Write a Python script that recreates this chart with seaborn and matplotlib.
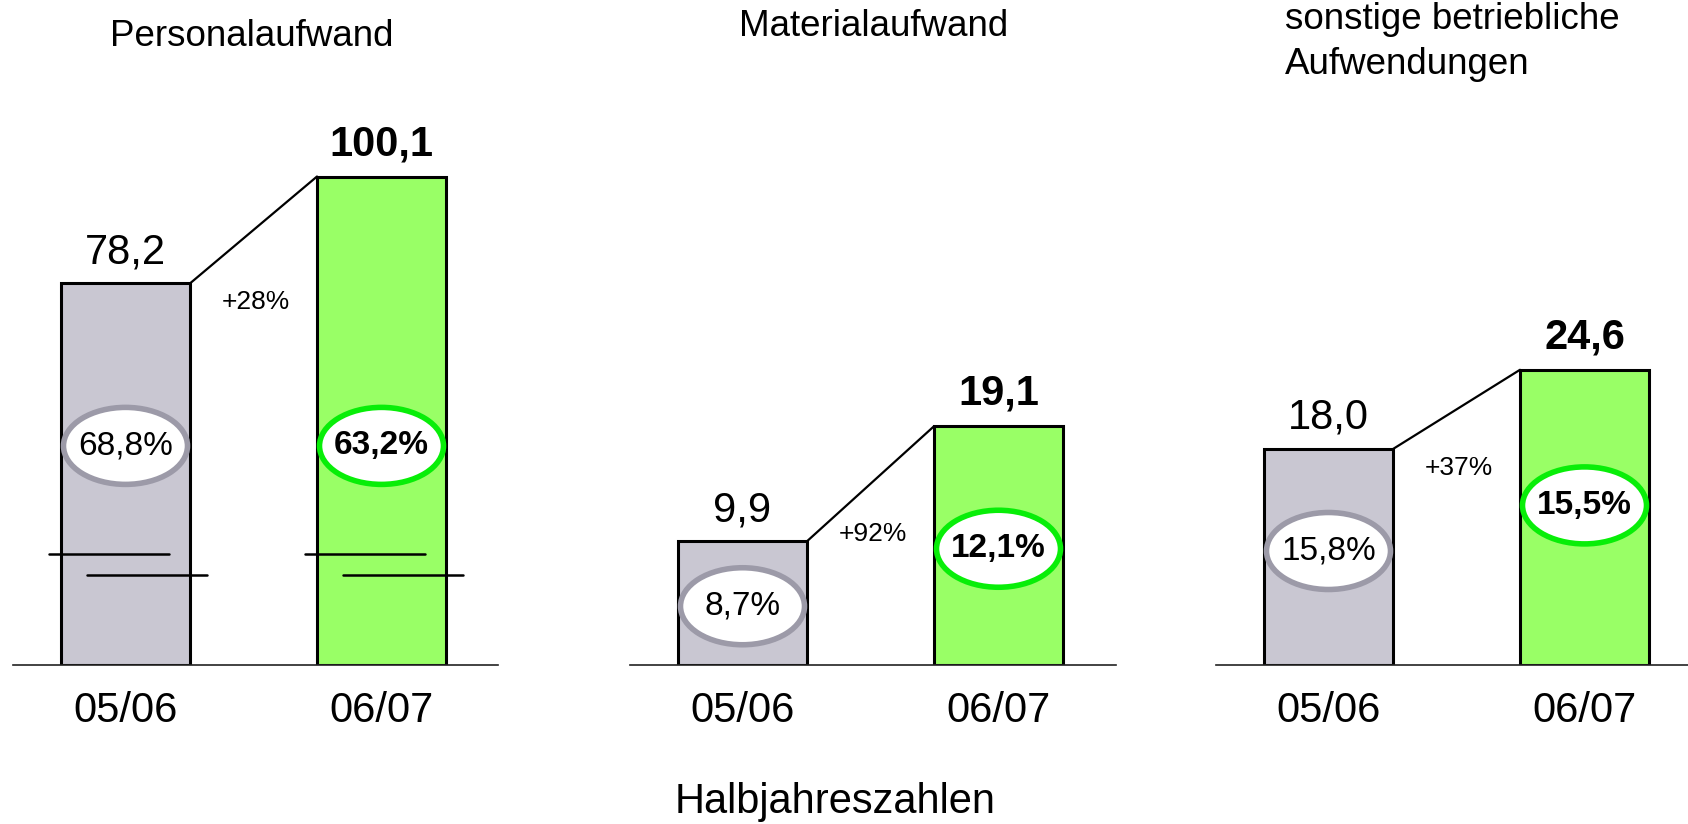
import matplotlib
matplotlib.use('Agg')
import matplotlib.pyplot as plt
from matplotlib.patches import Ellipse
import seaborn as sns
import pandas as pd

# Daten (Halbjahreszahlen, Mio. EUR)
periods = ['05/06', '06/07']
titles = ['Personalaufwand', 'Materialaufwand', 'sonstige betriebliche\nAufwendungen']
personal = [78.2, 100.1]
material = [9.9, 19.1]
sonstige = [18.0, 24.6]
personal_share = [68.8, 63.2]
material_share = [8.7, 12.1]
sonstige_share = [15.8, 15.5]
growth = [28, 92, 37]

values = [personal, material, sonstige]
shares = [personal_share, material_share, sonstige_share]

# Farben
GREY = '#C9C7D2'
GREY_EDGE = '#9C9AA8'
GREEN = '#99FF66'
GREEN_EDGE = '#08EE08'

# Layout (Pixel bei dpi=100)
W, H = 1688, 824
BASE = 665
BAR_W = 0.504
PX_UNIT = 256
axes_left = [13, 630, 1216]
axes_right = [498, 1116, 1688]
px_per_value = [4.88, 12.5, 12.0]
ellipse_y = [[44.9, 44.9], [4.7, 9.3], [9.5, 13.3]]
growth_dy = [-19, 7, -19]
break_y = [22.7, 18.4]


def fmt(v, suffix=''):
    return f"{v:.1f}".replace('.', ',') + suffix


sns.set_theme(style='white')
plt.rcParams['font.family'] = ['Liberation Sans', 'DejaVu Sans']
plt.rcParams['text.color'] = 'black'
plt.rcParams['xtick.color'] = 'black'

fig = plt.figure(figsize=(W / 100, H / 100), dpi=100)

for i in range(3):
    left, right = axes_left[i], axes_right[i]
    ax = fig.add_axes([left / W, 1 - BASE / H, (right - left) / W, BASE / H])
    df = pd.DataFrame({'Periode': periods, 'Wert': values[i]})
    sns.barplot(data=df, x='Periode', y='Wert', hue='Periode', order=periods,
                palette=[GREY, GREEN], saturation=1, edgecolor='black', linewidth=2.2,
                width=BAR_W, legend=False, ax=ax, zorder=2)

    ymax = BASE / px_per_value[i]
    x0 = -(125.5 - 13) / PX_UNIT
    ax.set_xlim(x0, x0 + (right - left) / PX_UNIT)
    ax.set_ylim(0, ymax)

    # Achsen
    for s in ['top', 'left', 'right']:
        ax.spines[s].set_visible(False)
    ax.spines['bottom'].set_color('#222222')
    ax.spines['bottom'].set_linewidth(1.2)
    ax.set_yticks([])
    ax.set_xlabel('')
    ax.set_ylabel('')
    ax.tick_params(axis='x', length=0, pad=19, labelsize=30, labelcolor='black')

    v1, v2 = values[i]

    # Wertbeschriftungen
    ax.annotate(fmt(v1), (0, v1), xytext=(0, 8), textcoords='offset points',
                ha='center', va='bottom', fontsize=30, color='black')
    ax.annotate(fmt(v2), (1, v2), xytext=(0, 9), textcoords='offset points',
                ha='center', va='bottom', fontsize=30, fontweight='bold', color='black')

    # Verbindungslinie
    ax.plot([BAR_W / 2, 1 - BAR_W / 2], [v1, v2], color='black', lw=1.6, zorder=3)

    # Wachstum
    ax.annotate(f"+{growth[i]}%", (0.51, v1), xytext=(0, growth_dy[i] * 0.72),
                textcoords='offset points', ha='center', va='center', fontsize=19)

    # Anteile in Ellipsen
    eh = 77 / px_per_value[i]
    for j, (edge, weight) in enumerate([(GREY_EDGE, 'normal'), (GREEN_EDGE, 'bold')]):
        ey = ellipse_y[i][j]
        ax.add_patch(Ellipse((j, ey), 124 / PX_UNIT, eh, facecolor='white',
                             edgecolor=edge, lw=4, zorder=4))
        ax.text(j, ey, fmt(shares[i][j], '%'), ha='center', va='center',
                fontsize=24, fontweight=weight, zorder=5)

    # Achsenbruch-Markierung (nur Personalaufwand)
    if i == 0:
        for j in range(2):
            ax.plot([j - 0.30, j + 0.17], [break_y[0]] * 2, color='black', lw=1.8, zorder=3)
            ax.plot([j - 0.15, j + 0.32], [break_y[1]] * 2, color='black', lw=1.8, zorder=3)

# Titel
fig.text(252 / W, 1 - 36 / H, titles[0], ha='center', va='center', fontsize=26.5)
fig.text(874 / W, 1 - 26 / H, titles[1], ha='center', va='center', fontsize=26.5)
fig.text(1285 / W, 1 - 42 / H, titles[2], ha='left', va='center', fontsize=26.5,
         linespacing=1.35)
fig.text(835 / W, 1 - 802 / H, 'Halbjahreszahlen', ha='center', va='center', fontsize=30)

fig.savefig('out.png', dpi=100)
plt.close(fig)
